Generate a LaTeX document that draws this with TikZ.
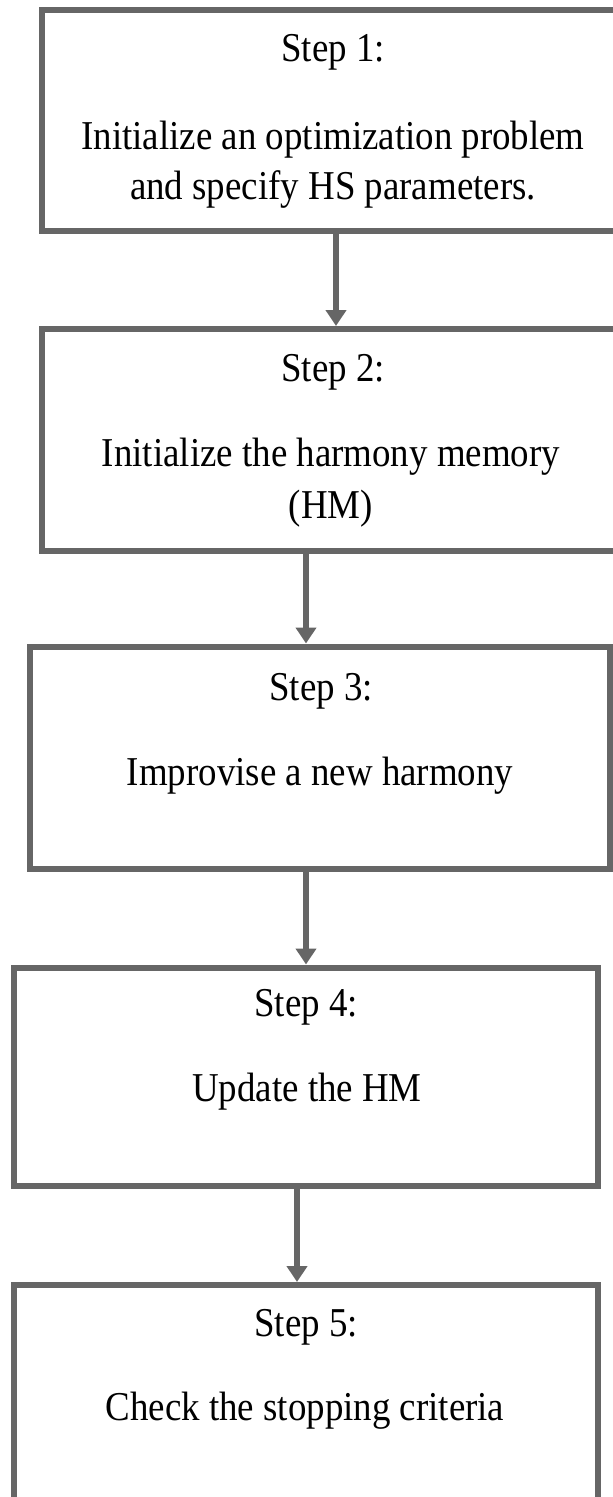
\documentclass[tikz,border=0pt]{standalone}
\usepackage{fontspec}
\setmainfont{Liberation Serif}[FakeStretch=0.9]
\usetikzlibrary{arrows.meta}
\definecolor{edgegray}{HTML}{666666}
\tikzset{
  stepbox/.style={draw=edgegray,line width=6pt,inner sep=0pt,rectangle},
  txt/.style={anchor=base,inner sep=0pt,text=black,font=\fontsize{41}{48}\selectfont},
  flow/.style={draw=edgegray,line width=6pt,-{Triangle[width=20pt,length=16pt]}}
}
\begin{document}
\begin{tikzpicture}[x=1pt,y=1pt]
\clip (0,0) rectangle (613,-1497);
\fill[white] (0,0) rectangle (613,-1497);

\node[stepbox,minimum width=588pt,minimum height=221pt] (b1) at (336,-120) {};
\node[stepbox,minimum width=588pt,minimum height=221.5pt] (b2) at (336,-439.75) {};
\node[stepbox,minimum width=580pt,minimum height=222pt] (b3) at (320,-757.5) {};
\node[stepbox,minimum width=583.5pt,minimum height=218.5pt] (b4) at (305.75,-1076.75) {};
\node[stepbox,minimum width=583.5pt,minimum height=220pt] (b5) at (305.75,-1395) {};

\node[txt] (s1) at (333,-61) {Step 1:};
\node[txt] (t1a) at (333,-149) {Initialize an optimization problem};
\node[txt] (t1b) at (333,-199) {and specify HS parameters.};
\node[txt] (s2) at (333,-381) {Step 2:};
\node[txt] (t2a) at (331,-466) {Initialize the harmony memory};
\node[txt] (t2b) at (331,-518) {(HM)};
\node[txt] (s3) at (321,-700) {Step 3:};
\node[txt] (t3) at (320,-785) {Improvise a new harmony};
\node[txt] (s4) at (306,-1016) {Step 4:};
\node[txt] (t4) at (307,-1101) {Update the HM};
\node[txt] (s5) at (306,-1336) {Step 5:};
\node[txt] (t5) at (305,-1420) {Check the stopping criteria};

\coordinate (a1) at (336,0);
\coordinate (a2) at (306,0);
\coordinate (a4) at (297,0);
\draw[flow] (b1.south -| a1) -- (b2.north -| a1);
\draw[flow] (b2.south -| a2) -- (b3.north -| a2);
\draw[flow] (b3.south -| a2) -- (b4.north -| a2);
\draw[flow] (b4.south -| a4) -- (b5.north -| a4);
\end{tikzpicture}
\end{document}
